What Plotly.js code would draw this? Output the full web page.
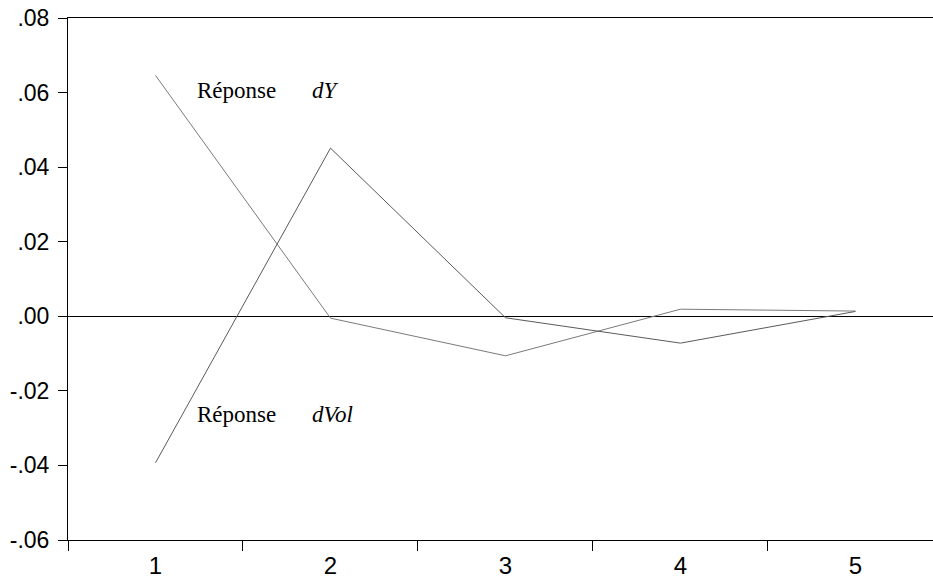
<!DOCTYPE html>
<html>
<head>
<meta charset="utf-8">
<script src="https://cdn.plot.ly/plotly-3.0.1.min.js"></script>
<style>html,body{margin:0;padding:0;background:#fff;}#chart{width:933px;height:579px;}</style>
</head>
<body>
<div id="chart"></div>
<script>
const periods = ["1", "2", "3", "4", "5"];
const responseDY = [0.0646, -0.0005, -0.0106, 0.0019, 0.0014];
const responseDVol = [-0.0393, 0.0451, -0.0004, -0.0072, 0.0013];
const yTickVals = [-0.06, -0.04, -0.02, 0.00, 0.02, 0.04, 0.06, 0.08];
const yTickText = ["-.06", "-.04", "-.02", ".00", ".02", ".04", ".06", ".08"];

const traces = [
  {x: periods, y: responseDY, type: "scatter", mode: "lines", name: "dY",
   line: {color: "#7a7a7a", width: 1}, hoverinfo: "skip"},
  {x: periods, y: responseDVol, type: "scatter", mode: "lines", name: "dVol",
   line: {color: "#5a5a5a", width: 1}, hoverinfo: "skip"}
];

const serif = "Liberation Serif, Times New Roman, serif";
const sans = "Liberation Sans, Arial, sans-serif";
const layout = {
  width: 933, height: 579,
  margin: {l: 68, r: 0, t: 18, b: 39, pad: 0},
  paper_bgcolor: "#ffffff", plot_bgcolor: "#ffffff",
  showlegend: false,
  xaxis: {
    type: "category", categoryorder: "array", categoryarray: periods,
    range: [-0.5, 4.443], tickson: "boundaries",
    ticks: "outside", ticklen: 10, tickwidth: 1, tickcolor: "#000",
    ticklabelstandoff: 4,
    showline: true, linecolor: "#000", linewidth: 1, mirror: true,
    showgrid: false, zeroline: false,
    tickfont: {family: sans, size: 24, color: "#000"}
  },
  yaxis: {
    range: [-0.06, 0.08], tickvals: yTickVals, ticktext: yTickText,
    ticks: "outside", ticklen: 9, tickwidth: 1, tickcolor: "#000",
    ticklabelstandoff: 4,
    showline: true, linecolor: "#000", linewidth: 1,
    showgrid: false, zeroline: true, zerolinecolor: "#000", zerolinewidth: 1,
    tickfont: {family: sans, size: 23, color: "#000"}
  },
  annotations: [
    {xref: "paper", yref: "paper", x: 0.147, y: 0.862, xanchor: "left", yanchor: "middle",
     text: "Réponse", showarrow: false, font: {family: serif, size: 23, color: "#000"}},
    {xref: "paper", yref: "paper", x: 0.280, y: 0.862, xanchor: "left", yanchor: "middle",
     text: "<i>dY</i>", showarrow: false, font: {family: serif, size: 23, color: "#000"}},
    {xref: "paper", yref: "paper", x: 0.147, y: 0.24, xanchor: "left", yanchor: "middle",
     text: "Réponse", showarrow: false, font: {family: serif, size: 23, color: "#000"}},
    {xref: "paper", yref: "paper", x: 0.280, y: 0.24, xanchor: "left", yanchor: "middle",
     text: "<i>dVol</i>", showarrow: false, font: {family: serif, size: 23, color: "#000"}}
  ]
};

Plotly.newPlot("chart", traces, layout, {staticPlot: true, displayModeBar: false});
</script>
</body>
</html>
